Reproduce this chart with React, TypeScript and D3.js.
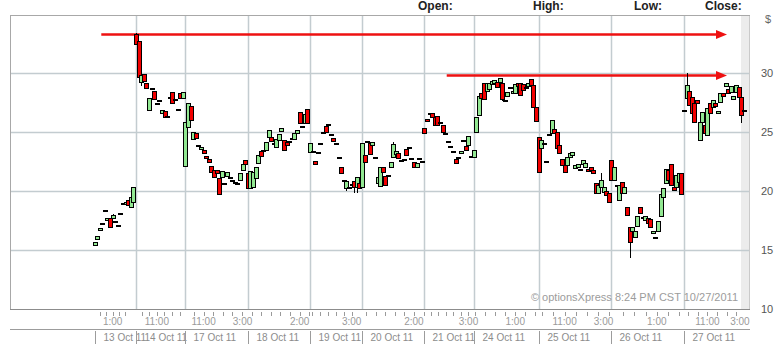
import React from "react";
import * as d3 from "d3";

type C = [number, number, number, number]; // open, high, low, close

const dayLabels = ["13 Oct 11", "14 Oct 11", "17 Oct 11", "18 Oct 11", "19 Oct 11", "20 Oct 11", "21 Oct 11", "24 Oct 11", "25 Oct 11", "26 Oct 11", "27 Oct 11"];

const oct13: C[] = [
  [15.42,15.68,15.42,15.68],[15.93,16.19,15.93,16.19],[16.69,16.86,16.69,16.86],[17.29,17.29,17.29,17.29],
  [18.39,18.39,18.39,18.39],[17.54,17.71,17.54,17.71],[17.71,17.71,16.95,16.95],[17.71,18.05,17.71,17.97],
  [17.46,17.46,17.46,17.46],[17.12,17.12,17.12,17.12],[18.14,18.14,18.14,18.14],[18.98,18.98,18.98,18.98],
  [18.90,19.07,18.90,19.07],[19.24,19.24,18.81,18.81],[18.64,19.80,18.64,19.49],[19.07,20.34,19.07,20.34],
];
const oct14: C[] = [
  [33.31,33.40,32.46,32.46],[32.71,32.71,29.66,29.66],[29.24,29.83,28.90,29.83],[29.92,29.92,29.32,29.32],
  [29.15,29.15,28.73,28.73],[26.86,27.88,26.86,27.88],[28.73,28.73,28.73,28.73],[28.47,28.47,27.80,27.80],
  [27.46,27.46,27.46,27.46],[27.71,27.71,27.71,27.71],[26.61,26.86,26.61,26.86],[26.78,26.78,26.27,26.27],
  [26.35,26.35,26.35,26.35],[27.97,27.97,27.97,27.97],[28.39,28.39,27.46,27.46],[27.80,27.80,27.80,27.80],
  [26.95,26.95,26.95,26.95],[28.31,28.31,27.88,27.88],[27.88,28.39,27.88,28.39],
];
const oct17: C[] = [
  [22.12,25.85,22.12,25.85],[25.42,27.46,25.42,27.46],[27.20,27.20,26.02,26.02],[24.41,25.00,24.41,25.00],
  [24.92,24.92,24.49,24.49],[23.90,23.90,23.90,23.90],[23.56,23.73,23.56,23.73],[23.47,23.47,23.22,23.22],
  [22.97,22.97,22.80,22.80],[22.71,22.71,22.46,22.46],[22.12,22.12,21.61,21.61],[21.78,21.78,21.19,21.19],
  [21.78,21.78,21.53,21.53],[21.10,21.10,19.75,19.75],[21.19,21.69,21.19,21.69],[20.68,20.68,20.68,20.68],
  [21.27,21.61,21.27,21.61],[21.19,21.19,21.19,21.19],[20.93,20.93,20.93,20.93],[20.76,20.76,20.76,20.76],
  [20.68,20.68,20.68,20.68],[20.93,21.53,20.93,21.53],[21.78,22.29,21.78,22.29],[22.63,22.63,22.29,22.29],
];
const oct18: C[] = [
  [21.53,21.53,20.25,20.25],[20.25,21.69,20.25,21.69],[20.34,21.61,20.34,21.61],[21.10,22.03,21.10,22.03],
  [22.37,23.05,22.37,23.05],[23.39,23.39,22.97,22.97],[23.47,23.47,23.47,23.47],[23.47,24.15,23.47,24.15],
  [24.58,25.17,24.58,25.17],[24.58,24.58,24.24,24.24],[24.07,24.07,24.07,24.07],[23.73,24.41,23.73,24.41],
  [24.32,24.83,24.32,24.83],[25.08,25.34,25.08,25.34],[24.32,24.32,23.47,23.47],[24.15,24.15,23.90,23.90],
  [24.24,24.24,24.24,24.24],[24.49,24.49,24.49,24.49],[24.41,24.92,24.41,24.92],[24.92,25.17,24.92,25.17],
  [26.69,26.69,25.76,25.76],[25.51,25.51,25.51,25.51],[25.76,26.53,25.76,26.53],[26.95,26.95,25.76,25.76],
];
const oct19: C[] = [
  [23.31,24.07,23.31,24.07],[23.39,23.39,23.39,23.39],[22.54,22.54,22.29,22.29],[23.31,23.31,23.31,23.31],
  [24.07,24.07,24.07,24.07],[25.00,25.00,25.00,25.00],[25.51,25.68,25.00,25.00],[25.68,25.68,25.68,25.68],
  [24.83,24.83,24.83,24.83],[24.49,24.49,24.24,24.24],[24.07,24.07,24.07,24.07],[22.88,22.88,22.88,22.88],
  [22.03,22.03,21.53,21.53],[20.93,20.93,20.93,20.93],[20.25,20.85,20.00,20.85],[20.34,20.34,20.34,20.34],
  [20.60,20.60,20.60,20.60],[20.85,20.85,19.80,20.34],[20.34,21.19,19.80,21.19],[20.68,20.68,20.25,20.25],
];
const oct20: C[] = [
  [20.34,24.07,20.34,24.07],[23.05,23.05,22.46,22.46],[24.24,24.24,24.24,24.24],[24.07,24.07,23.14,23.14],
  [23.90,24.15,23.90,24.15],[22.88,22.88,22.88,22.88],[20.68,21.19,20.68,21.19],[20.42,22.03,20.42,22.03],
  [22.03,22.03,21.61,21.61],[21.27,21.27,20.51,20.51],[21.36,21.36,21.36,21.36],[22.03,22.46,22.03,22.46],
  [22.88,24.15,22.88,23.98],[23.14,23.39,23.14,23.39],[23.22,23.22,22.80,22.80],[22.63,22.63,22.63,22.63],
  [22.70,22.70,22.70,22.70],[23.56,23.56,23.05,23.05],[23.73,23.73,23.73,23.73],[22.80,22.80,22.80,22.80],
  [22.46,22.46,22.03,22.03],[22.03,22.37,22.03,22.37],[22.80,22.80,22.80,22.80],[22.55,22.55,22.55,22.55],
];
const oct21: C[] = [
  [25.34,25.34,24.92,24.92],[26.10,26.10,25.93,25.93],[26.61,26.61,26.61,26.61],[26.61,26.61,26.27,26.27],
  [26.27,26.27,25.59,25.59],[26.36,26.36,25.59,25.59],[25.85,25.85,25.85,25.85],[25.59,25.59,25.00,25.00],
  [24.92,24.92,24.92,24.92],[24.24,24.24,24.24,24.24],[23.81,23.81,23.81,23.81],[23.39,23.39,23.39,23.39],
  [22.71,22.71,22.37,22.37],[22.88,22.88,22.88,22.88],[23.22,23.39,23.22,23.39],[24.32,24.32,24.32,24.32],
  [23.81,23.81,23.47,23.47],[23.90,24.66,23.90,24.66],[23.00,23.00,23.00,23.00],
];
const oct24: C[] = [
  [22.88,23.47,22.88,23.47],[25.00,26.27,25.00,26.27],[26.44,28.05,26.44,28.05],[28.31,28.31,27.88,27.88],
  [29.15,29.15,27.80,27.80],[28.47,29.15,28.47,29.15],[28.64,29.15,28.64,29.15],[29.07,29.32,29.07,29.32],
  [29.15,29.41,29.15,29.41],[29.24,29.24,28.81,28.81],[29.24,29.58,29.24,29.58],[29.15,29.15,27.63,27.80],
  [27.71,27.71,27.71,27.71],[28.05,28.39,28.05,28.39],[28.81,28.81,28.81,28.81],[28.31,28.47,28.31,28.47],
  [28.31,29.07,28.31,29.07],[29.15,29.15,28.90,28.90],[29.15,29.15,28.14,28.14],[29.07,29.07,28.56,28.56],
  [28.80,28.80,28.80,28.80],[28.90,29.15,28.90,29.15],[29.49,29.49,28.98,28.98],[28.98,28.98,27.12,27.12],
  [27.12,27.12,25.93,25.93],
];
const oct25: C[] = [
  [24.58,24.58,21.61,21.61],[23.64,24.32,23.64,24.32],[24.07,24.07,24.07,24.07],[22.54,22.54,22.54,22.54],
  [24.83,24.83,24.83,24.83],[24.92,26.02,24.92,26.02],[25.25,25.25,24.92,24.92],[25.00,25.00,23.64,23.64],
  [23.90,23.90,23.22,23.22],[22.71,22.71,22.20,22.20],[22.20,22.20,21.61,21.61],[22.20,22.88,22.20,22.88],
  [22.88,23.22,22.88,23.22],[23.05,23.31,23.05,23.31],[21.95,22.20,21.95,22.20],[22.03,22.29,22.03,22.29],
  [21.86,21.86,21.86,21.86],[22.29,22.63,22.29,22.63],[22.03,22.37,22.03,22.37],[21.90,21.90,21.70,21.70],
  [22.03,22.03,21.78,21.78],[21.78,21.78,21.53,21.53],[20.68,20.68,19.83,19.83],[19.83,20.51,19.83,20.51],
  [20.34,21.53,20.34,20.93],[19.92,20.34,19.92,20.34],[20.00,20.00,19.66,19.66],[19.83,19.83,19.07,19.07],
];
const oct26: C[] = [
  [22.63,22.63,20.93,20.93],[20.93,22.03,20.93,22.03],[20.51,20.51,20.51,20.51],[19.24,20.51,19.24,20.51],
  [20.76,20.76,19.83,19.83],[19.83,20.34,19.83,20.34],[18.64,18.64,17.97,17.97],[16.95,16.95,14.32,15.68],
  [16.61,16.95,16.61,16.95],[16.10,16.61,16.10,16.61],[17.03,17.88,17.03,17.88],[18.64,18.64,18.14,18.14],
  [17.80,17.80,17.80,17.80],[17.54,17.88,17.54,17.88],[17.71,17.71,17.29,17.29],[17.63,17.63,16.95,16.95],
  [16.44,16.61,16.44,16.61],[16.10,16.10,16.10,16.10],[16.61,17.46,16.61,17.46],[17.88,19.75,17.88,19.75],
  [19.49,20.25,19.49,20.25],[20.68,21.86,20.68,21.86],[21.78,21.78,20.93,20.93],[22.29,22.29,20.51,20.51],
  [20.34,20.34,20.08,20.08],[20.34,21.36,20.34,21.36],[20.76,21.53,20.76,21.53],[21.53,21.53,19.75,19.75],
];
const oct27: C[] = [
  [26.86,26.86,26.86,26.86],[27.88,30.00,27.88,28.98],[28.47,28.47,27.29,27.29],[27.97,27.97,26.61,26.61],
  [27.46,27.46,25.85,25.85],[27.71,27.71,27.46,27.46],[24.32,25.85,24.32,25.85],[25.85,26.69,25.85,26.69],
  [25.59,25.59,24.92,24.92],[24.75,27.03,24.75,27.03],[27.46,27.46,26.61,26.61],[27.12,27.71,27.12,27.71],
  [27.46,27.46,27.20,27.20],[26.61,26.78,26.61,26.78],[27.54,28.31,27.54,28.31],[28.31,28.31,28.05,28.05],
  [28.90,29.15,28.90,29.15],[28.64,28.64,28.31,28.31],[28.39,28.90,28.39,28.90],[27.80,28.05,27.80,28.05],
  [28.39,28.98,28.39,28.98],[28.81,28.81,27.97,27.97],[27.97,27.97,25.76,26.44],[26.86,26.86,26.86,26.86],
];

const dayCandles: C[][] = [oct13, oct14, oct17, oct18, oct19, oct20, oct21, oct24, oct25, oct26, oct27];

const priceTicks = [10, 15, 20, 25, 30];
// [day index, candle position within day, label]
const timeLabels: [number, number, string][] = [
  [0, 7, "1:00"], [1, 8, "11:00"], [2, 7, "11:00"], [2, 22, "3:00"], [3, 20, "2:00"], [4, 16, "3:00"],
  [5, 20, "2:00"], [6, 17, "3:00"], [7, 16, "1:00"], [8, 10, "11:00"], [8, 25, "3:00"], [9, 17.5, "1:00"],
  [10, 9, "11:00"], [10, 21.5, "3:00"],
];
const headerLabels = ["Open:", "High:", "Low:", "Close:"];
const headerX = [418, 533, 634, 705];
// resistance arrows: [price level, starting day, starting candle]
const arrowLevels: [number, number, number][] = [[33.3, 0, 3], [29.83, 6, 9]];

const W = 783, H = 349;
const L = 10, R = 750, T = 15, B = 309;
const FONT = "'Liberation Sans', Arial, Helvetica, sans-serif";
const GREEN = "#92e892";
const RED = "#f20000";
const GRID = "#c3ccd0";

export default function App() {
  const flat: { c: C; day: number; i: number; g: number }[] = [];
  const dayStart: number[] = [];
  dayCandles.forEach((arr, d) => {
    dayStart.push(flat.length);
    arr.forEach((c, i) => flat.push({ c, day: d, i, g: flat.length }));
  });
  const N = flat.length;
  const x = d3.scaleLinear().domain([0, N - 1]).range([94.5, 743.8]);
  const y = d3.scaleLinear().domain([10, 35]).range([B, T - 1]);

  const hourOf = (s: string) => { const h = +s.split(":")[0]; return h < 8 ? h + 12 : h; };
  const minorTicks: number[] = [];
  const seen = new Set<number>();
  timeLabels.forEach(([d, idx, lab]) => {
    if (seen.has(d)) return;
    seen.add(d);
    const n = dayCandles[d].length;
    const per = n / 6.5;
    const h0 = hourOf(lab);
    for (let h = 9; h <= 15; h++) {
      const p = idx + (h - h0) * per;
      if (p >= 0.5 && p <= n - 0.3) minorTicks.push(dayStart[d] + p);
    }
  });
  dayCandles.forEach((_, d) => {
    if (!seen.has(d)) {
      const n = dayCandles[d].length;
      for (let k = 0; k < 7; k++) minorTicks.push(dayStart[d] + (k + 0.5) * n / 6.5);
    }
  });

  const bw = 4;
  return (
    <svg width={W} height={H} style={{ position: "absolute", left: 0, top: 0, background: "#fff" }} fontFamily={FONT}>
      <defs>
        <filter id="blur" x="-5%" y="-200%" width="110%" height="500%">
          <feGaussianBlur stdDeviation="1.6" />
        </filter>
      </defs>
      {headerLabels.map((t, k) => (
        <text key={t} x={headerX[k]} y={10} fontSize={12} fontWeight="bold" fill="#222">{t}</text>
      ))}
      {/* plot frame */}
      <rect x={L + 0.5} y={T + 0.5} width={R - L - 1} height={B - T} fill="#fff" stroke="#a8a8a8" />
      <rect x={741} y={T + 1} width={8.5} height={B - T - 1} fill="#ececec" />
      {priceTicks.filter(v => v > 10).map(v => (
        <line key={v} x1={L + 1} x2={R - 1} y1={Math.round(y(v)) + 0.5} y2={Math.round(y(v)) + 0.5} stroke={GRID} strokeWidth={1.5} />
      ))}
      {dayStart.slice(1).map((s, k) => (
        <line key={k} x1={Math.round(x(s)) + 0.5} x2={Math.round(x(s)) + 0.5} y1={T + 1} y2={B} stroke={GRID} strokeWidth={1.5} />
      ))}
      <text x={738} y={301} fontSize={11} fill="#9c9c9c" textAnchor="end">© optionsXpress 8:24 PM CST 10/27/2011</text>
      {/* arrows */}
      {arrowLevels.map(([v, d, i], k) => {
        const x0 = x(dayStart[d] + i) - 1;
        const yy = y(v) + 0.5;
        const tip = 727;
        return (
          <g key={k}>
            <line x1={x0 + 4} x2={tip + 6} y1={yy + 5} y2={yy + 5} stroke="#8a8a8a" strokeWidth={3.5} opacity={0.55} filter="url(#blur)" />
            <line x1={x0} x2={tip - 8} y1={yy} y2={yy} stroke="#ee1111" strokeWidth={2.6} />
            <path d={`M${tip - 11},${yy - 4.5} L${tip},${yy} L${tip - 11},${yy + 4.5} Z`} fill="#ee1111" />
          </g>
        );
      })}
      {/* candles */}
      <g shapeRendering="crispEdges">
        {flat.map(({ c, g }) => {
          const [o, h, l, cl] = c;
          const cx = Math.round(x(g));
          const top = Math.round(y(Math.max(o, cl)));
          const bot = Math.round(y(Math.min(o, cl)));
          const up = cl > o;
          const flatBody = bot - top < 1;
          return (
            <g key={g}>
              {(h > Math.max(o, cl) || l < Math.min(o, cl)) && (
                <line x1={cx + 0.5} x2={cx + 0.5} y1={Math.round(y(h))} y2={Math.round(y(l))} stroke="#000" />
              )}
              <rect x={cx - bw / 2 + 0.5} y={top + 0.5} width={bw} height={Math.max(1, bot - top)}
                fill={flatBody ? "#000" : up ? GREEN : RED} stroke="#000" strokeWidth={1} />
            </g>
          );
        })}
      </g>
      {/* right axis */}
      <text x={765} y={23} fontSize={11} fill="#666">$</text>
      {priceTicks.map(v => (
        <text key={v} x={761} y={y(v) + 4} fontSize={11} fill="#555">{v}</text>
      ))}
      {/* bottom axis */}
      <line x1={L} x2={R} y1={B + 0.5} y2={B + 0.5} stroke="#8c8c8c" />
      {minorTicks.map((p, k) => (
        <line key={k} x1={Math.round(x(p)) + 0.5} x2={Math.round(x(p)) + 0.5} y1={312} y2={316} stroke="#9a9a9a" />
      ))}
      {timeLabels.map(([d, idx, lab], k) => (
        <text key={k} x={x(dayStart[d] + idx)} y={324.5} fontSize={10} fill="#9a9a9a" textAnchor="middle">{lab}</text>
      ))}
      <line x1={L} x2={R} y1={329.5} y2={329.5} stroke="#9c9c9c" />
      {dayStart.map((s, d) => {
        const sx = Math.round(x(s)) + 0.5;
        return (
          <g key={d}>
            <line x1={sx} x2={sx} y1={331} y2={344} stroke="#9c9c9c" />
            <text x={sx + 8} y={341} fontSize={10} fill="#8c8c8c">{dayLabels[d]}</text>
          </g>
        );
      })}
    </svg>
  );
}
